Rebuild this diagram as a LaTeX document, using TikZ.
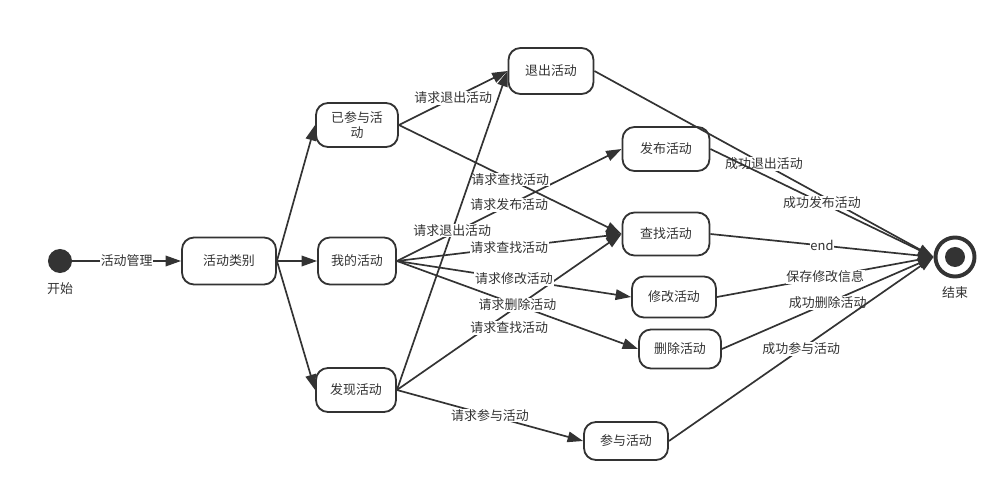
\documentclass[tikz,border=0pt]{standalone}
\usepackage{fontspec}
\setmainfont{Noto Sans CJK SC}
\usepackage{xcolor}
\usetikzlibrary{arrows.meta}
\definecolor{ink}{HTML}{333333}
\tikzset{state box/.style={draw=ink,line width=1.3pt,rounded corners=0.3cm,fill=white,text=ink,minimum width=2.1cm,minimum height=1.1cm,align=center,inner sep=1pt},flow/.style={draw=ink,line width=1.2pt,-{Triangle[length=11pt,width=7.5pt]}},flow label/.style={fill=white,text=ink,inner sep=0.6pt},node label/.style={text=ink}}

\begin{document}
\begin{tikzpicture}[x=0.025cm,y=-0.025cm,font=\fontsize{9.2}{11}\selectfont]
			\useasboundingbox (0,0) rectangle (1007,492);
			\node[circle,fill=ink,minimum size=0.6cm,inner sep=0pt] (init) at (60,261) {};
			\node[node label] (initlabel) at (60,289) {开始};
			\node[state box,minimum width=2.35cm,minimum height=1.175cm] (kind) at (229,261) {活动类别};
			\node[state box,minimum width=2.05cm] (joined) at (357,125) {已参与活\\动};
			\node[state box,minimum width=1.95cm,minimum height=1.175cm] (mine) at (357,261) {我的活动};
			\node[state box,minimum width=2cm] (discover) at (356,390) {发现活动};
			\node[state box,minimum width=2.125cm,minimum height=1.15cm] (quit) at (551,71) {退出活动};
			\node[state box,minimum width=2.175cm] (publish) at (666,149) {发布活动};
			\node[state box,minimum width=2.175cm,minimum height=1.075cm] (search) at (666,234) {查找活动};
			\node[state box,minimum height=1.025cm] (modify) at (674,297) {修改活动};
			\node[state box,minimum width=2.05cm,minimum height=0.975cm] (remove) at (680,349) {删除活动};
			\node[state box,minimum height=0.95cm] (join) at (626,441) {参与活动};
			\node[circle,draw=ink,line width=2.8pt,minimum size=0.975cm,inner sep=0pt] (final) at (955,257) {};
			\node[circle,fill=ink,minimum size=0.5cm,inner sep=0pt] (finaldot) at (final.center) {};
			\node[node label] (finallabel) at (955,293) {结束};
			\draw[flow] (init) -- node[flow label] {活动管理} (kind);
			\draw[flow] (kind.east) -- (joined.west);
			\draw[flow] (kind.east) -- (mine.west);
			\draw[flow] (kind.east) -- (discover.west);
			\draw[flow] (mine.east) -- node[flow label] {请求发布活动} (publish.west);
			\draw[flow] (joined.east) -- node[flow label] {请求退出活动} (quit.west);
			\draw[flow] (joined.east) -- node[flow label] {请求查找活动} (search.west);
			\draw[flow] (discover.east) -- node[flow label] {请求退出活动} (quit.west);
			\draw[flow] (discover.east) -- node[flow label,yshift=-0.4cm] {请求查找活动} (search.west);
			\draw[flow] (mine.east) -- node[flow label] {请求查找活动} (search.west);
			\draw[flow] (mine.east) -- node[flow label] {请求修改活动} (modify.west);
			\draw[flow] (mine.east) -- node[flow label] {请求删除活动} (remove.west);
			\draw[flow] (discover.east) -- node[flow label] {请求参与活动} (join.west);
			\draw[flow] (quit.east) -- node[flow label] {成功退出活动} (final.west);
			\draw[flow] (publish.east) -- node[flow label] {成功发布活动} (final.west);
			\draw[flow] (search.east) -- node[flow label] {end} (final.west);
			\draw[flow] (modify.east) -- node[flow label] {保存修改信息} (final.west);
			\draw[flow] (remove.east) -- node[flow label] {成功删除活动} (final.west);
			\draw[flow] (join.east) -- node[flow label] {成功参与活动} (final.west);
		\end{tikzpicture}
\end{document}
